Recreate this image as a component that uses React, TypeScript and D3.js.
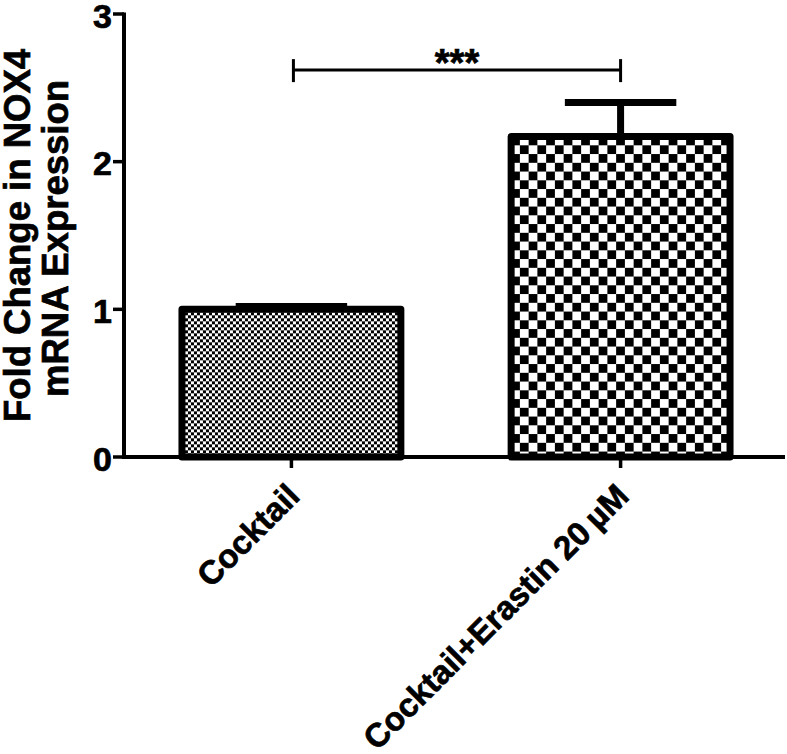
import React from "react";
import * as d3 from "d3";

const categories = ["Cocktail", "Cocktail+Erastin 20\u2009\u00b5M"];
const means = [1.0, 2.17];
const sems = [0.02, 0.23];
const patternCells = [3, 8.75];
const yTicks = [0, 1, 2, 3];
const yLabelLines = ["Fold Change in NOX4", "mRNA Expression"];
const sigLabel = "***";
const sigLevel = 2.62;

const W = 787;
const H = 754;
const FONT = "'Liberation Sans', Arial, Helvetica, sans-serif";

export default function App() {
  const axisX = 124;
  const y = d3.scaleLinear().domain([0, 3]).range([457, 14]);
  const x = d3.scaleBand<string>().domain(categories).range([126, 786]).paddingInner(0.335).paddingOuter(0.17);
  const bw = x.bandwidth();
  const barStroke = 7;
  const heavy = { stroke: "#000", strokeWidth: 0.7 };

  return (
    <svg width={W} height={H} style={{ position: "absolute", left: 0, top: 0, background: "#fff" }} fontFamily={FONT}>
      <defs>
        {categories.map((c, i) => {
          const s = patternCells[i];
          return (
            <pattern key={c} id={`chk${i}`} patternUnits="userSpaceOnUse" width={2 * s} height={2 * s} x={x(c)!} y={y(means[i])}>
              <rect width={2 * s} height={2 * s} fill="#fff" />
              <rect width={s} height={s} fill="#000" />
              <rect x={s} y={s} width={s} height={s} fill="#000" />
            </pattern>
          );
        })}
      </defs>

      {/* bars */}
      {categories.map((c, i) => {
        const x0 = x(c)!;
        const cx = x0 + bw / 2;
        const top = y(means[i]);
        const errY = y(means[i] + sems[i]);
        const capHalf = bw / 4 + 1;
        return (
          <g key={c}>
            <line x1={cx} x2={cx} y1={top} y2={errY} stroke="#000" strokeWidth={7} />
            <line x1={cx - capHalf} x2={cx + capHalf} y1={errY} y2={errY} stroke="#000" strokeWidth={7} />
            <rect x={x0} y={top} width={bw} height={y(0) - top} fill={`url(#chk${i})`} stroke="#000" strokeWidth={barStroke} strokeLinejoin="round" />
          </g>
        );
      })}

      {/* y axis */}
      <line x1={axisX} x2={axisX} y1={y(3) - 1.5} y2={y(0) + 1.5} stroke="#000" strokeWidth={4} />
      {yTicks.map((t) => (
        <g key={t}>
          <line x1={axisX - 11} x2={axisX} y1={y(t)} y2={y(t)} stroke="#000" strokeWidth={3.5} />
          <text x={axisX - 12} y={y(t)} dy="0.4em" textAnchor="end" fontSize={34} fontWeight="bold" {...heavy}>
            {t}
          </text>
        </g>
      ))}

      {/* x axis */}
      <line x1={axisX - 2} x2={785} y1={y(0)} y2={y(0)} stroke="#000" strokeWidth={4} />
      {categories.map((c) => {
        const cx = x(c)! + bw / 2;
        return (
          <g key={c}>
            <line x1={cx} x2={cx} y1={y(0)} y2={y(0) + 11} stroke="#000" strokeWidth={3.5} />
            <text transform={`translate(${cx + 10},${y(0) + 41}) rotate(-45)`} textAnchor="end" fontSize={33} fontWeight="bold" {...heavy}>
              {c}
            </text>
          </g>
        );
      })}

      {/* y label */}
      <text transform={`translate(30,${(y(0) + y(3)) / 2}) rotate(-90)`} textAnchor="middle" fontSize={36.5} fontWeight="bold" {...heavy}>
        {yLabelLines[0]}
      </text>
      <text transform={`translate(68,${(y(0) + y(3)) / 2 + 3}) rotate(-90)`} textAnchor="middle" fontSize={36.5} fontWeight="bold" {...heavy}>
        {yLabelLines[1]}
      </text>

      {/* significance bracket */}
      {(() => {
        const x1 = x(categories[0])! + bw / 2 + 2;
        const x2 = x(categories[1])! + bw / 2;
        const ly = y(sigLevel);
        return (
          <g>
            <line x1={x1} x2={x2} y1={ly} y2={ly} stroke="#000" strokeWidth={3} />
            <line x1={x1} x2={x1} y1={ly - 11} y2={ly + 12} stroke="#000" strokeWidth={3} />
            <line x1={x2} x2={x2} y1={ly - 11} y2={ly + 12} stroke="#000" strokeWidth={3} />
            <text x={(x1 + x2) / 2} y={ly + 6} textAnchor="middle" fontSize={38} fontWeight="bold" {...heavy}>
              {sigLabel}
            </text>
          </g>
        );
      })()}
    </svg>
  );
}
